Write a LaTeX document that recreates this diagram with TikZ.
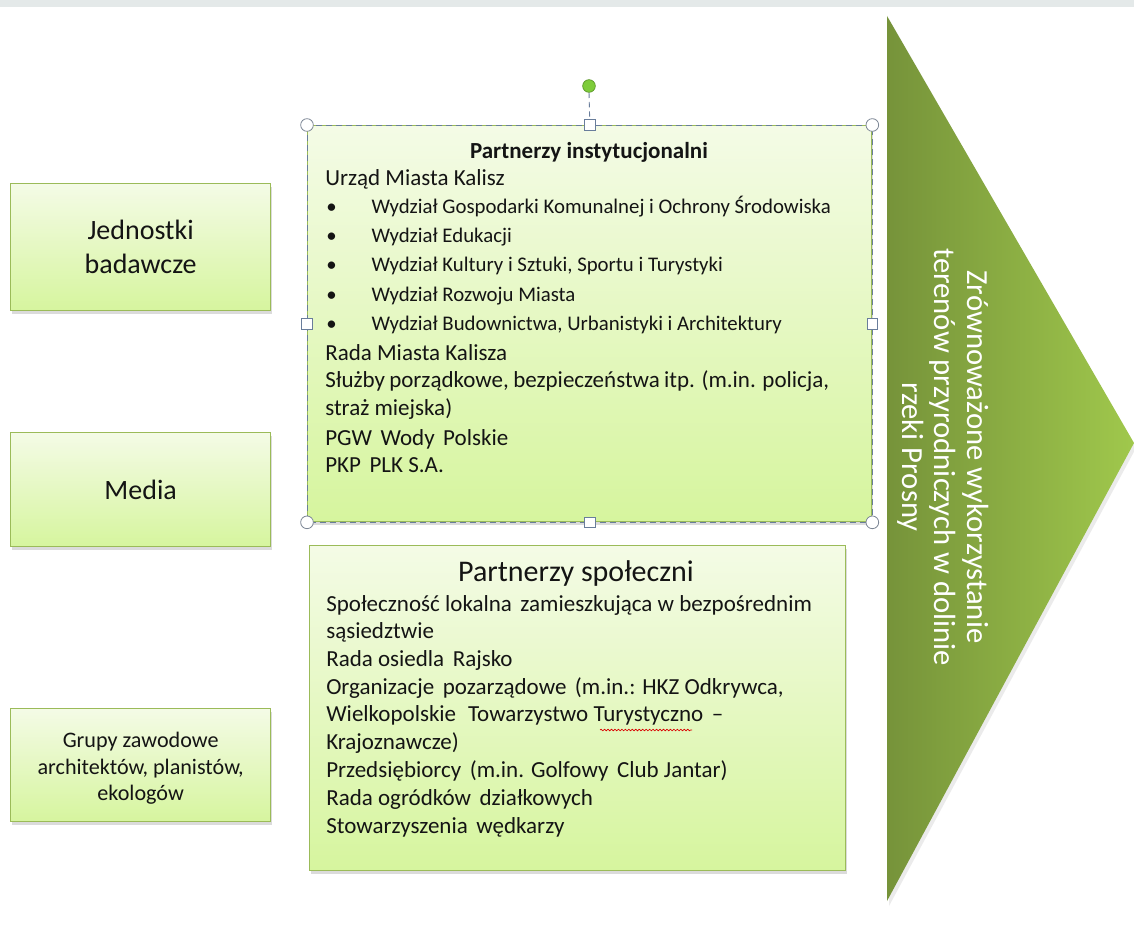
\documentclass[tikz,border=0pt]{standalone}
\usepackage{fontspec}
\setmainfont{Carlito}
\usetikzlibrary{shadows,decorations.pathmorphing}
\definecolor{boxtop}{RGB}{244,251,230}
\definecolor{boxbot}{RGB}{214,245,158}
\definecolor{boxline}{RGB}{155,187,89}
\definecolor{tridark}{RGB}{118,147,58}
\definecolor{trilight}{RGB}{160,200,76}
\definecolor{selline}{RGB}{105,125,155}
\definecolor{handleline}{RGB}{125,135,150}
\definecolor{rotfill}{RGB}{126,204,58}
\definecolor{rotline}{RGB}{90,150,40}
\definecolor{topstrip}{RGB}{228,233,233}
\definecolor{txt}{RGB}{20,20,20}
\newcommand\xs{\hspace{2.5pt}}
\begin{document}
\begin{tikzpicture}[x=0.75pt,y=-0.75pt,
  greenbox/.style={draw=boxline, line width=1pt, top color=boxtop, bottom color=boxbot,
    drop shadow={opacity=0.28, shadow xshift=1pt, shadow yshift=-2.2pt},
    anchor=north west, inner sep=0pt},
  sidetext/.style={align=center, text=txt},
  bodyline/.style={anchor=base west, inner sep=0pt, text=txt, font=\fontsize{17.25pt}{21pt}\selectfont},
  bulletline/.style={anchor=base west, inner sep=0pt, text=txt, font=\fontsize{15.6pt}{18pt}\selectfont},
  cornerhandle/.style={circle, draw=handleline, fill=white, line width=0.6pt, minimum size=9.5pt, inner sep=0pt},
  sidehandle/.style={rectangle, draw=selline, fill=white, line width=0.6pt, minimum size=8pt, inner sep=0pt},
  rothandle/.style={circle, draw=rotline, fill=rotfill, line width=0.5pt, minimum size=9.5pt, inner sep=0pt},
  seldash/.style={draw=selline, line width=0.7pt, dash pattern=on 4.5pt off 3pt}
]
\useasboundingbox (0,0) rectangle (1134,924);
\fill[white] (0,0) rectangle (1134,924);
\fill[topstrip] (0,0) rectangle (1134,7);

% arrow triangle
\fill[black!30, opacity=0.25] (889,19) -- (1136,448) -- (889,906) -- cycle;
\shade[left color=tridark, right color=trilight] (887,16) -- (1134,443) -- (887,901) -- cycle;
\node[rotate=-90, align=center, text=white, font=\fontsize{23pt}{24.4pt}\selectfont] (goal) at (943,457)
  {Zrównoważone wykorzystanie\\terenów przyrodniczych w dolinie\\rzeki Prosny};

% left boxes
\node[greenbox, minimum width=195pt, minimum height=95.25pt] (jb) at (10,183) {};
\node[sidetext, font=\fontsize{21pt}{25.5pt}\selectfont] (jbt) at (jb.center) {Jednostki\\badawcze};
\node[greenbox, minimum width=195pt, minimum height=85.5pt] (med) at (10,432) {};
\node[sidetext, font=\fontsize{21pt}{25.5pt}\selectfont] (medt) at (med.center) {Media};
\node[greenbox, minimum width=195pt, minimum height=84.75pt] (gz) at (10,708) {};
\node[sidetext, font=\fontsize{16.6pt}{19.9pt}\selectfont] (gzt) at ([yshift=-2.5pt]gz.center) {Grupy zawodowe\\architektów, planistów,\\ekologów};

% institutional partners box
\node[greenbox, minimum width=423pt, minimum height=297pt] (pi) at (307,125) {};
\node[anchor=base, inner sep=0pt, text=txt, font=\fontsize{17.25pt}{21pt}\selectfont\bfseries] (pit) at (589,158) {Partnerzy instytucjonalni};
\node[bodyline] (pi1) at (325,185) {Urząd Miasta Kalisz};
\node[bulletline] (pb1) at (326,213) {\makebox[34pt][l]{\textbullet}Wydział Gospodarki Komunalnej i Ochrony Środowiska};
\node[bulletline] (pb2) at (326,242) {\makebox[34pt][l]{\textbullet}Wydział Edukacji};
\node[bulletline] (pb3) at (326,271) {\makebox[34pt][l]{\textbullet}Wydział Kultury i Sztuki, Sportu i Turystyki};
\node[bulletline] (pb4) at (326,301) {\makebox[34pt][l]{\textbullet}Wydział Rozwoju Miasta};
\node[bulletline] (pb5) at (326,330) {\makebox[34pt][l]{\textbullet}Wydział Budownictwa, Urbanistyki i Architektury};
\node[bodyline] (pi2) at (325,360) {Rada Miasta Kalisza};
\node[bodyline] (pi3) at (325,387) {\makebox[378pt][s]{Służby porządkowe, bezpieczeństwa itp. (m.in. policja,}};
\node[bodyline] (pi4) at (325,415) {straż miejska)};
\node[bodyline] (pi5) at (325,445) {PGW\xs\ Wody\xs\ Polskie};
\node[bodyline] (pi6) at (325,472) {PKP\xs\ PLK S.A.};

% selection frame
\draw[seldash] (pi.north west) rectangle (pi.south east);
\node[cornerhandle] (h1) at (pi.north west) {};
\node[cornerhandle] (h2) at (pi.north east) {};
\node[cornerhandle] (h3) at (pi.south west) {};
\node[cornerhandle] (h4) at (pi.south east) {};
\node[sidehandle] (h5) at (pi.north) {};
\node[sidehandle] (h6) at (pi.south) {};
\node[sidehandle] (h7) at (pi.west) {};
\node[sidehandle] (h8) at (pi.east) {};
\node[rothandle] (rot) at (589,86) {};
\draw[draw=selline, line width=0.7pt, dash pattern=on 4pt off 3pt] (rot.south) -- (h5.north);

% social partners box
\node[greenbox, minimum width=402pt, minimum height=243.75pt] (ps) at (309,545) {};
\node[anchor=base, inner sep=0pt, text=txt, font=\fontsize{22.5pt}{27pt}\selectfont] (pst) at (576,581) {Partnerzy społeczni};
\node[bodyline] (ps1) at (326,611) {Społeczność lokalna\xs\ zamieszkująca w bezpośrednim};
\node[bodyline] (ps2) at (326,638) {sąsiedztwie};
\node[bodyline] (ps3) at (326,666) {Rada osiedla\xs\ Rajsko};
\node[bodyline] (ps4) at (326,694) {Organizacje\xs\ pozarządowe\xs\ (m.in.: HKZ Odkrywca,};
\node[bodyline] (ps5) at (326,721) {Wielkopolskie\xs\xs\ Towarzystwo Turystyczno\xs\ –};
\node[bodyline] (ps6) at (326,749) {Krajoznawcze)};
\node[bodyline] (ps7) at (326,777) {Przedsiębiorcy\xs\ (m.in. Golfowy\xs\ Club Jantar)};
\node[bodyline] (ps8) at (326,805) {Rada ogródków\xs\ działkowych};
\node[bodyline] (ps9) at (326,833) {Stowarzyszenia\xs\ wędkarzy};
\coordinate (sq1) at (600,730);
\coordinate (sq2) at (692,730);
\draw[red!85!black, line width=0.5pt, decorate, decoration={snake, amplitude=0.6pt, segment length=2.6pt}] (sq1) -- (sq2);
\end{tikzpicture}
\end{document}
